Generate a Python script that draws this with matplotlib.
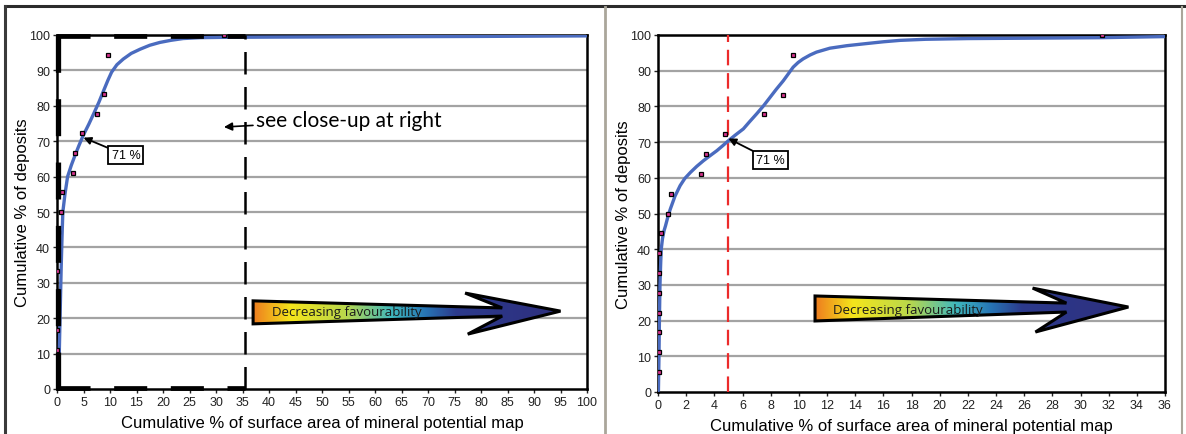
import numpy as np
import matplotlib
matplotlib.use("Agg")
import matplotlib.pyplot as plt
from matplotlib.patches import Polygon
from matplotlib.colors import LinearSegmentedColormap
from matplotlib.lines import Line2D

plt.rcParams['font.family'] = ['Liberation Sans', 'DejaVu Sans']

# ---- Deposits: cumulative % of area vs cumulative % of deposits ----
dep_area = [0.05, 0.05, 0.05, 0.05, 0.06, 0.06, 0.08, 0.18, 0.72, 0.92,
            3.05, 3.4, 4.75, 7.5, 8.9, 9.6, 31.5]
dep_pct = [5.6, 11.1, 16.7, 22.2, 27.8, 33.3, 38.9, 44.4, 50.0, 55.6,
           61.1, 66.7, 72.2, 77.8, 83.3, 94.4, 100.0]

# ---- Fitted success-rate curve, full range ----
full_fit_area = [0.25, 0.4, 0.5, 0.65, 0.8, 0.95, 1.1, 1.5, 2.0, 2.7, 3.4, 4.2,
                 5.0, 6.0, 6.9, 7.9, 8.8, 9.6, 10.3, 11.3, 12.5, 14.0, 15.7,
                 17.5, 19.4, 21.5, 23.8, 27.0, 32.0, 40.0, 60.0, 80.0, 100.0]
full_fit_pct = [0.0, 8.0, 15.0, 25.0, 35.0, 43.0, 50.0, 55.0, 60.0, 63.2, 66.0, 69.0,
                71.8, 74.8, 77.7, 81.0, 84.3, 87.2, 89.5, 91.6, 93.2, 94.8, 96.0,
                97.1, 97.9, 98.5, 99.0, 99.25, 99.35, 99.4, 99.5, 99.6, 99.75]

# ---- Fitted success-rate curve, close-up range ----
close_fit_area = [0.03, 0.07, 0.1, 0.14, 0.19, 0.23, 0.32, 0.43, 0.53, 0.73, 0.88,
                  1.2, 1.57, 1.9, 2.3, 2.75, 3.23, 3.7, 4.18, 4.6, 5.0, 5.5, 6.06,
                  6.5, 7.0, 7.5, 7.95, 8.4, 8.9, 9.25, 9.6, 9.95, 10.3, 10.8,
                  11.25, 12.2, 13.4, 14.8, 16.0, 17.2, 19.0, 22.0, 26.0, 31.4,
                  36.0]
close_fit_pct = [0.4, 10.2, 20.0, 30.0, 36.0, 40.0, 43.0, 45.2, 46.5, 49.5, 51.3,
                 54.8, 57.8, 59.8, 61.5, 63.2, 64.8, 66.2, 67.6, 69.0, 70.4, 72.0,
                 73.7, 75.7, 77.9, 80.2, 82.5, 84.8, 87.2, 89.1, 91.0, 92.3, 93.3,
                 94.4, 95.2, 96.3, 97.0, 97.6, 98.1, 98.5, 98.8, 99.0, 99.1, 99.25,
                 99.55]

cut_area = 5.0
cut_pct = 71.0
zoom_limit = 35.5

left_xticks = list(range(0, 101, 5))
right_xticks = list(range(0, 37, 2))
yticks = list(range(0, 101, 10))

blue = '#4a6bbf'
pink = '#d8348f'

fig = plt.figure(figsize=(11.86, 4.35), dpi=100)
ax1 = fig.add_axes([57 / 1186, 1 - 390 / 435, 530 / 1186, 354 / 435])
ax2 = fig.add_axes([658 / 1186, 1 - 393 / 435, 507 / 1186, 357 / 435])

grad_cmap = LinearSegmentedColormap.from_list(
    'favour',
    [(0.0, '#ee7d1f'), (0.12, '#f5e51b'), (0.3, '#b9d84c'), (0.45, '#3fb8be'),
     (0.56, '#2775b5'), (0.66, '#2c3a8c'), (1.0, '#2e2f7e')])


def gradient_arrow(ax, pts, x0, x1, y0, y1, label, lx, ly):
    poly = Polygon(pts, closed=True, facecolor='none', edgecolor='black',
                   linewidth=2.2, zorder=6, joinstyle='miter')
    ax.add_patch(poly)
    grad = np.linspace(0, 1, 256).reshape(1, -1)
    im = ax.imshow(grad, cmap=grad_cmap, extent=[x0, x1, y0, y1],
                   aspect='auto', zorder=5, interpolation='bilinear')
    im.set_clip_path(poly)
    ax.text(lx, ly, label, fontsize=9.5, family=['Open Sans', 'DejaVu Sans'],
            color='#1a1a1a', va='center', ha='left', zorder=7)


panels = [(ax1, 100, left_xticks, full_fit_area, full_fit_pct),
          (ax2, 36, right_xticks, close_fit_area, close_fit_pct)]
for ax, xmax, xticks, fx, fy in panels:
    ax.set_xlim(0, xmax)
    ax.set_ylim(0, 100)
    ax.set_xticks(xticks)
    ax.set_yticks(yticks)
    ax.tick_params(labelsize=9, length=3, width=1, pad=2, colors='#222222')
    for y in yticks[1:]:
        ax.axhline(y, color='#a3a3a3', linewidth=1.6, zorder=1)
    for s in ax.spines.values():
        s.set_linewidth(1.8)
        s.set_color('black')
    ax.plot(fx, fy, color=blue, linewidth=2.4, zorder=4,
            solid_capstyle='round', solid_joinstyle='round')
    ax.plot(dep_area, dep_pct, linestyle='none', marker='s', markersize=3.4,
            markerfacecolor=pink, markeredgecolor='black', markeredgewidth=0.9,
            zorder=4)
    ax.set_xlabel("Cumulative % of surface area of mineral potential map",
                  fontsize=12, labelpad=5)
    ax.set_ylabel("Cumulative % of deposits", fontsize=12, labelpad=-1)

# ---- Left panel: dashed outline of the close-up region ----
ax1.plot([0, zoom_limit], [0.3, 0.3], color='black', linewidth=3.4,
         dashes=(7, 5), zorder=6, clip_on=False)
ax1.plot([0, zoom_limit], [99.7, 99.7], color='black', linewidth=3.4,
         dashes=(7, 5), zorder=6, clip_on=False)
ax1.plot([0.2, 0.2], [0, 100], color='black', linewidth=3.8,
         dashes=(7, 5), zorder=6, clip_on=False)
ax1.plot([zoom_limit, zoom_limit], [0, 100], color='black', linewidth=1.8,
         dashes=(9, 5), zorder=6)

ax1.annotate("see close-up at right", xy=(31.5, 74), xytext=(37.5, 76),
             fontsize=15, family=['Lato', 'DejaVu Sans'], va='center',
             ha='left', zorder=7,
             arrowprops=dict(arrowstyle='-|>', color='black', lw=1.2,
                             mutation_scale=12, shrinkA=0, shrinkB=0))

ax1.annotate("71 %", xy=(cut_area, cut_pct), xytext=(13, 66), fontsize=9,
             ha='center', va='center', zorder=7,
             bbox=dict(boxstyle='square,pad=0.25', fc='white', ec='black', lw=1.3),
             arrowprops=dict(arrowstyle='-|>', color='black', lw=1.3,
                             mutation_scale=11, shrinkA=0, shrinkB=0))

left_arrow = [(37, 24.9), (84, 22.9), (77, 27.1), (95, 22.0),
              (77.5, 15.5), (84, 20.6), (37, 18.4)]
gradient_arrow(ax1, left_arrow, 37, 95, 15, 28, "Decreasing favourability",
               40.6, 21.8)

# ---- Right panel: close-up with 5 % cut-off ----
ax2.axvline(cut_area, color='#ec2b2b', linewidth=1.6, dashes=(7, 3.5), zorder=3)
ax2.annotate("71 %", xy=(cut_area, cut_pct), xytext=(8.0, 65), fontsize=9,
             ha='center', va='center', zorder=7,
             bbox=dict(boxstyle='square,pad=0.25', fc='white', ec='black', lw=1.3),
             arrowprops=dict(arrowstyle='-|>', color='black', lw=1.3,
                             mutation_scale=11, shrinkA=0, shrinkB=0))

right_arrow = [(11.15, 26.9), (29.0, 24.9), (26.6, 29.1), (33.4, 23.8),
               (26.8, 16.8), (29.0, 22.4), (11.15, 19.9)]
gradient_arrow(ax2, right_arrow, 11.15, 33.4, 16, 30, "Decreasing favourability",
               12.4, 23.2)

# ---- Page frame lines ----
frame = [
    Line2D([5 / 1186, 1], [1 - 7 / 435, 1 - 7 / 435], color='#2b2b2b', lw=2.2),
    Line2D([5 / 1186, 5 / 1186], [0, 1 - 7 / 435], color='#3a3a3a', lw=2.2),
    Line2D([605 / 1186, 605 / 1186], [0, 1 - 8 / 435], color='#aaa69a', lw=2.0),
    Line2D([1182 / 1186, 1182 / 1186], [0, 1 - 8 / 435], color='#aaa69a', lw=1.5),
]
for ln in frame:
    ln.set_transform(fig.transFigure)
    fig.add_artist(ln)

fig.savefig("out.png", dpi=100)
